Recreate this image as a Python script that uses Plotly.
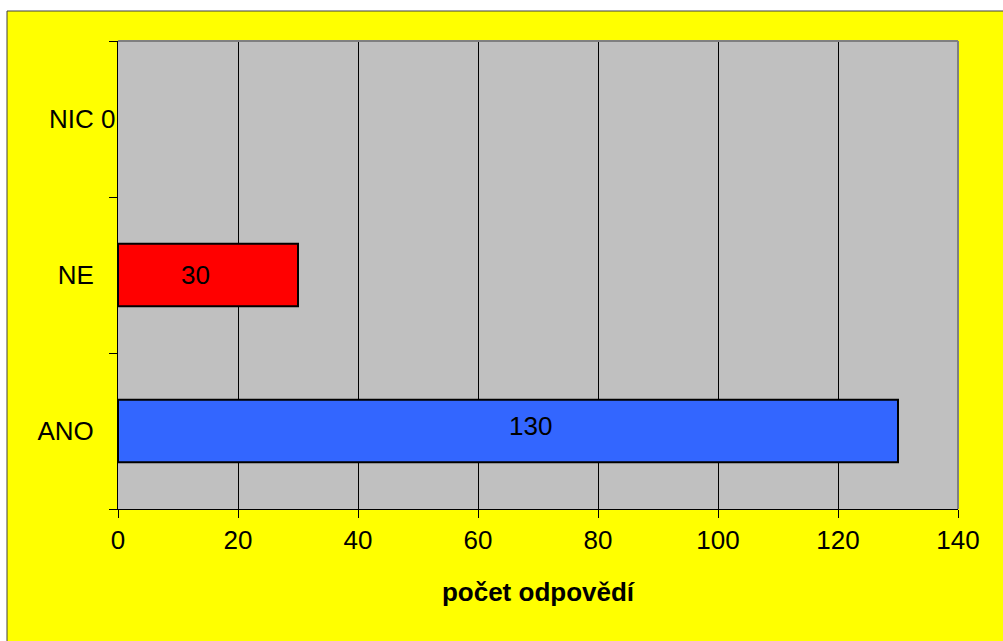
import plotly.graph_objects as go

categories = ["ANO", "NE", "NIC"]
values = [130, 30, 0]
colors = ["#3366FF", "#FF0000", "#C0C0C0"]
x_ticks = [0, 20, 40, 60, 80, 100, 120, 140]
x_title = "počet odpovědí"

# label offsets (pixels) mimicking the original label placement
label_dx = [22, -13, 0]
label_dy = [5, 0, 0]

W, H = 1003, 641
L, R, T, B = 118, 958, 41, 509
pw, ph = R - L, B - T

def px_x(p):
    return (p - L) / pw

def px_y(p):
    return (B - p) / ph

font = dict(family="Liberation Sans, Arial, sans-serif", size=26, color="black")

fig = go.Figure()
fig.add_trace(go.Bar(
    y=categories, x=values, orientation="h",
    marker=dict(color=colors,
                line=dict(color="black", width=[2 if v > 0 else 0 for v in values])),
    width=0.4, hoverinfo="skip",
))

for c, v, dx, dy in zip(categories, values, label_dx, label_dy):
    if v == 0:
        fig.add_annotation(x=v, y=c, text=str(v), showarrow=False,
                           xanchor="right", xshift=-1, font=font)
    else:
        fig.add_annotation(x=v / 2, y=c, text=str(v), showarrow=False,
                           xanchor="center", xshift=dx, yshift=dy, font=font)

shapes = [
    dict(type="rect", xref="paper", yref="paper", x0=px_x(-20), x1=px_x(7),
         y0=px_y(700), y1=px_y(-20), fillcolor="white", line=dict(width=0), layer="below"),
    dict(type="rect", xref="paper", yref="paper", x0=px_x(-20), x1=px_x(1020),
         y0=px_y(11), y1=px_y(-20), fillcolor="white", line=dict(width=0), layer="below"),
    dict(type="line", xref="paper", yref="paper", x0=px_x(7), x1=px_x(7),
         y0=px_y(11), y1=px_y(700), line=dict(color="#404040", width=1)),
    dict(type="line", xref="paper", yref="paper", x0=px_x(7), x1=px_x(1020),
         y0=px_y(11), y1=px_y(11), line=dict(color="#404040", width=1)),
    dict(type="line", xref="paper", yref="paper", x0=0, x1=1, y0=1, y1=1,
         line=dict(color="#808080", width=2)),
    dict(type="line", xref="paper", yref="paper", x0=1, x1=1, y0=0, y1=1,
         line=dict(color="#808080", width=2)),
]

fig.update_layout(
    width=W, height=H,
    margin=dict(l=L, r=W - R, t=T, b=H - B, pad=0),
    paper_bgcolor="#FFFF00", plot_bgcolor="#C0C0C0",
    showlegend=False, font=font, shapes=shapes,
    xaxis=dict(range=[0, 140], tickvals=x_ticks, showgrid=True, gridcolor="black",
               gridwidth=1, zeroline=False, showline=True, linecolor="black",
               linewidth=1, ticks="outside", ticklen=8, tickcolor="black",
               tickfont=font, fixedrange=True,
               title=dict(text="<b>" + x_title + "</b>", font=font, standoff=28)),
    yaxis=dict(categoryorder="array", categoryarray=categories, showgrid=False,
               zeroline=False, showline=True, linecolor="black", linewidth=1,
               ticks="outside", ticklen=8, tickcolor="black", tickson="boundaries",
               tickfont=font, ticklabelstandoff=18, fixedrange=True),
)

fig.write_html("out.html", config={"displayModeBar": False},
               post_script="document.body.style.margin='0';document.body.style.overflow='hidden';")
